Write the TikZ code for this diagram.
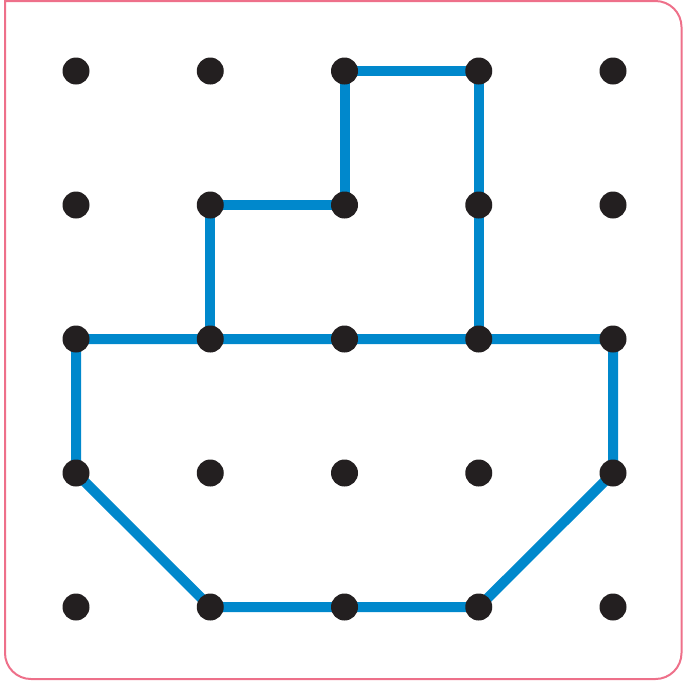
\documentclass[tikz,border=0pt]{standalone}
\usetikzlibrary{backgrounds}

\definecolor{pegblack}{RGB}{35,31,32}
\definecolor{bandblue}{RGB}{0,136,204}
\definecolor{boardpink}{RGB}{238,112,138}

\tikzset{every picture/.style={x=1pt, y=1pt}}
\tikzset{peg/.style={circle, fill=pegblack, inner sep=0pt, minimum size=27pt},
         band/.style={line width=10pt, color=bandblue, line join=round}}

\begin{document}
\begin{tikzpicture}
        \useasboundingbox (0,0) rectangle (685,-681);
        \draw[line width=2pt, color=boardpink] (5,-1) -- (655.5,-1)
            arc[start angle=90, end angle=0, radius=26] -- (681.5,-653)
            arc[start angle=0, end angle=-90, radius=26] -- (31,-679)
            arc[start angle=-90, end angle=-180, radius=26] -- cycle;
        \foreach \c in {1,...,5}
            \foreach \r in {1,...,5}
                \node[peg] (p-\c-\r) at ({76+134.25*(\c-1)}, {-71-134*(\r-1)}) {};
        \begin{scope}[on background layer]
            \draw[band] (p-1-3.center) -- (p-1-4.center) -- (p-2-5.center) -- (p-3-5.center)
                -- (p-4-5.center) -- (p-5-4.center) -- (p-5-3.center) -- (p-4-3.center)
                -- (p-3-3.center) -- (p-2-3.center) -- cycle;
            \draw[band] (p-2-3.center) -- (p-2-2.center) -- (p-3-2.center) -- (p-3-1.center)
                -- (p-4-1.center) -- (p-4-2.center) -- (p-4-3.center);
        \end{scope}
\end{tikzpicture}
\end{document}
